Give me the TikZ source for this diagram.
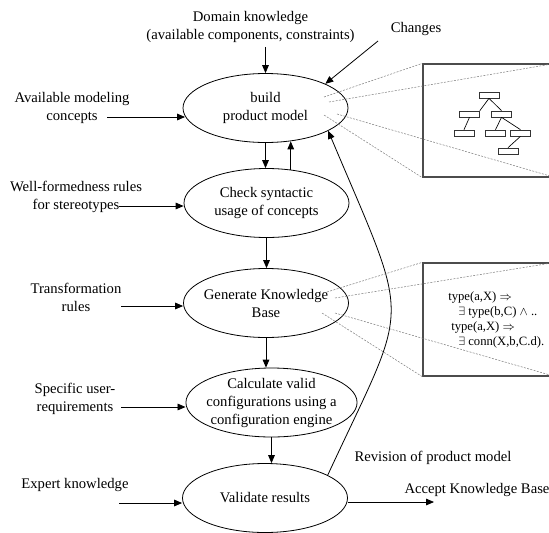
\documentclass[tikz,border=0pt]{standalone}
\usepackage{fontspec}
\setmainfont{Liberation Serif}
\usetikzlibrary{shapes.geometric,arrows.meta}

\begin{document}
\begin{tikzpicture}[x=0.75pt, y=-0.75pt, >={Triangle[length=6pt,width=5pt]},
    font=\fontsize{11}{13.5}\selectfont,
    proc/.style={ellipse, draw, line width=0.6pt, minimum width=123.75pt,
        minimum height=51.75pt, inner sep=-3.5pt, align=center},
    lbl/.style={align=center},
    flow/.style={->, line width=0.6pt},
    inset/.style={draw=black!70, line width=1pt, minimum width=99pt,
        minimum height=84.75pt, inner sep=0pt},
    zoomline/.style={gray, dash pattern=on 1.5pt off 1pt, line width=0.4pt},
    leaf/.style={draw=black!80, line width=0.5pt, minimum width=15pt,
        minimum height=4.5pt, inner sep=0pt}]
    \useasboundingbox (0,0) rectangle (549,532);

    % Process steps
    \node[proc] (build) at (265.5,108)   {build\\product model};
    \node[proc] (check) at (266.5,203)   {Check syntactic\\usage of concepts};
    \node[proc] (gen)   at (266,303)     {Generate Knowledge\\Base};
    \node[proc] (calc)  at (271.5,402.5) {Calculate valid\\configurations using a\\configuration engine};
    \node[proc] (valid) at (265,498)     {Validate results};

    % Inputs and outputs
    \node[lbl] (domain)   at (250.5,26.5) {Domain knowledge\\(available components, constraints)};
    \node[lbl] (changes)  at (416,29)     {Changes};
    \node[lbl] (concepts) at (72,108)     {Available modeling\\concepts};
    \node[lbl] (wellform) at (76,196.5)   {Well-formedness rules\\for stereotypes};
    \node[lbl] (trans)    at (76,297)     {Transformation\\rules};
    \node[lbl] (userreq)  at (75,399)     {Specific user-\\requirements};
    \node[lbl] (expert)   at (75,485)     {Expert knowledge};
    \node[lbl] (revision) at (433,458)    {Revision of product model};
    \node[lbl] (accept)   at (477,490)    {Accept Knowledge Base};

    \coordinate (chg-out)  at (378,41);
    \coordinate (con-out)  at (107,117);
    \coordinate (wf-out)   at (119,206);
    \coordinate (tr-out)   at (121,306);
    \coordinate (ur-out)   at (121,407);
    \coordinate (ex-out)   at (119,503);
    \coordinate (acc-in)   at (434,502);

    % Flow
    \draw[flow] (domain.south -| build.north) -- (build.north);
    \draw[flow] (chg-out) -- (build.22);
    \draw[flow] (con-out) -- (con-out -| build.186);
    \draw[flow] (build.south) -- (build.south |- check.north);
    \draw[flow] (check.54) -- (check.54 |- build.306);
    \draw[flow] (wf-out) -- (wf-out -| check.west);
    \draw[flow] (check.south) -- (check.south |- gen.north);
    \draw[flow] (tr-out) -- (tr-out -| gen.west);
    \draw[flow] (gen.south) -- (gen.south |- calc.north);
    \draw[flow] (ur-out) -- (ur-out -| calc.west);
    \draw[flow] (calc.south) -- (calc.south |- valid.north);
    \draw[flow] (ex-out) -- (ex-out -| valid.west);
    \draw[flow] (acc-in -| valid.east) -- (acc-in);
    \draw[flow] (valid.20) .. controls (411,295.5) and (412.5,331) .. (build.340);

    % Zoom of product model
    \node[inset] (zoom1) at (489,120.5) {};
    \draw[zoomline] ([shift={(58.5,-11)}]build.center) -- (zoom1.north west);
    \draw[zoomline] ([shift={(63.5,-6)}]build.center) -- (zoom1.north east);
    \draw[zoomline] ([shift={(58.5,7)}]build.center) -- (zoom1.south west);
    \draw[zoomline] ([shift={(71.5,6)}]build.center) -- (zoom1.south east);
    \node[leaf] (t1) at (489,95) {};
    \node[leaf] (t2) at (469.5,114) {};
    \node[leaf] (t3) at (501.5,114) {};
    \node[leaf] (t4) at (464,133) {};
    \node[leaf] (t5) at (495.5,133) {};
    \node[leaf] (t6) at (520.5,133) {};
    \node[leaf] (t7) at (508,151) {};
    \draw[line width=0.5pt] (t1.south) -- (t2.north east)
        (t1.south) -- (t3.north)
        (t2.south) -- (t4.north)
        (t3.south) -- (t5.north)
        (t3.south) -- (t6.north)
        (t6.south) -- (t7.north);

    % Zoom of knowledge base
    \node[inset] (zoom2) at (489,319.5) {};
    \draw[zoomline] ([shift={(61,-11)}]gen.center) -- (zoom2.north west);
    \draw[zoomline] ([shift={(69,-5)}]gen.center) -- (zoom2.north east);
    \draw[zoomline] ([shift={(56,10)}]gen.center) -- (zoom2.south west);
    \draw[zoomline] ([shift={(69,10)}]gen.center) -- (zoom2.south east);
    \node[align=left, anchor=west, inner sep=0pt, font=\fontsize{9.5}{11.25}\selectfont] (rules) at (448,320)
        {type(a,X) $\Rightarrow$\\
         \hspace*{7.5pt}$\exists$ type(b,C) $\wedge$ ..\\
         \hspace*{2.25pt}type(a,X) $\Rightarrow$\\
         \hspace*{7.5pt}$\exists$ conn(X,b,C.d).};
\end{tikzpicture}
\end{document}
